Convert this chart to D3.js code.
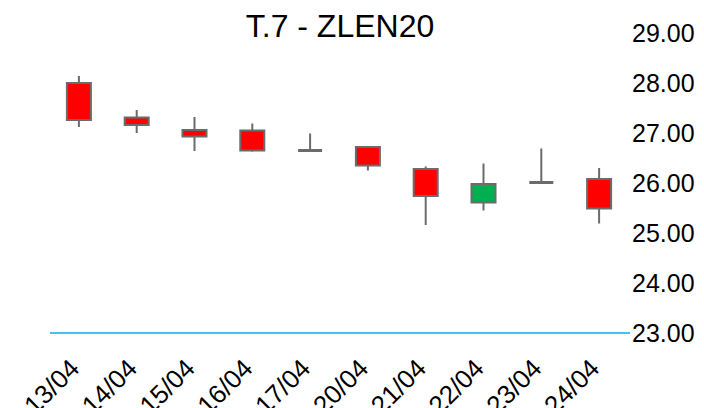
<!DOCTYPE html>
<html>
<head>
<meta charset="utf-8">
<script src="https://cdn.jsdelivr.net/npm/d3@7"></script>
<style>
  body { margin: 0; background: #fff; }
  text { font-family: "Liberation Sans", Arial, sans-serif; fill: #000; }
</style>
</head>
<body>
<div id="chart"></div>
<script>
// chart data
var dates = ['13/04', '14/04', '15/04', '16/04', '17/04', '20/04', '21/04', '22/04', '23/04', '24/04'];
var openVals  = [28.00, 27.31, 27.06, 27.05, 26.65, 26.72, 26.28, 25.61, 26.01, 26.08];
var highVals  = [28.14, 27.46, 27.32, 27.19, 26.99, 26.74, 26.33, 26.39, 26.69, 26.30];
var lowVals   = [27.12, 27.00, 26.64, 26.63, 26.64, 26.25, 25.16, 25.45, 26.00, 25.19];
var closeVals = [27.26, 27.16, 26.93, 26.65, 26.65, 26.35, 25.74, 25.98, 26.01, 25.49];
var yTicks = [23, 24, 25, 26, 27, 28, 29];

var svgWidth = 704;
var svgHeight = 408;
var margin = { top: 33, right: 76, bottom: 75, left: 50 };
var chartWidth = svgWidth - margin.left - margin.right;
var chartHeight = svgHeight - margin.top - margin.bottom;

var candles = dates.map((d, i) => ({
    date: d,
    open: openVals[i],
    high: highVals[i],
    low: lowVals[i],
    close: closeVals[i]
}));

var svg = d3.select('#chart')
    .append('svg')
    .attr('width', svgWidth)
    .attr('height', svgHeight);

var chartGroup = svg.append('g')
    .attr('transform', `translate(${margin.left}, ${margin.top})`);

var xScale = d3.scaleBand()
    .domain(dates)
    .range([0, chartWidth]);

var yScale = d3.scaleLinear()
    .domain([23, 29])
    .range([chartHeight, 0]);

var bodyWidth = 24;

// title
svg.append('text')
    .attr('x', 340)
    .attr('y', 37)
    .attr('text-anchor', 'middle')
    .style('font-size', '32px')
    .text('T.7 - ZLEN20');

// right axis
var rightAxis = d3.axisRight(yScale)
    .tickValues(yTicks)
    .tickSize(0)
    .tickPadding(4)
    .tickFormat(d3.format('.2f'));

var yAxisGroup = chartGroup.append('g')
    .attr('transform', `translate(${chartWidth}, 0)`)
    .call(rightAxis);
yAxisGroup.select('.domain').remove();
yAxisGroup.selectAll('text')
    .style('font-size', '25px')
    .attr('fill', '#000');

// bottom baseline
chartGroup.append('line')
    .attr('x1', 0)
    .attr('x2', chartWidth + 2)
    .attr('y1', yScale(23))
    .attr('y2', yScale(23))
    .attr('stroke', '#00b0f0')
    .attr('stroke-width', 1.5);

// x labels (rotated, partly cut by the bottom edge like the original)
chartGroup.selectAll('.xlabel')
    .data(dates)
    .enter()
    .append('text')
    .attr('class', 'xlabel')
    .attr('text-anchor', 'end')
    .style('font-size', '26px')
    .attr('transform', d => `translate(${xScale(d) + xScale.bandwidth() / 2 + 2}, ${chartHeight + 37}) rotate(-45)`)
    .text(d => d);

// wicks
chartGroup.selectAll('.wick')
    .data(candles)
    .enter()
    .append('line')
    .attr('class', 'wick')
    .attr('x1', d => xScale(d.date) + xScale.bandwidth() / 2)
    .attr('x2', d => xScale(d.date) + xScale.bandwidth() / 2)
    .attr('y1', d => yScale(d.high))
    .attr('y2', d => yScale(d.low))
    .attr('stroke', '#6b6b6b')
    .attr('stroke-width', 2);

// bodies
var bodies = candles.filter(d => d.open !== d.close);
chartGroup.selectAll('.body')
    .data(bodies)
    .enter()
    .append('rect')
    .attr('class', 'body')
    .attr('x', d => xScale(d.date) + (xScale.bandwidth() - bodyWidth) / 2)
    .attr('y', d => yScale(Math.max(d.open, d.close)))
    .attr('width', bodyWidth)
    .attr('height', d => Math.abs(yScale(d.open) - yScale(d.close)))
    .attr('fill', d => d.close > d.open ? '#00b050' : '#ff0000')
    .attr('stroke', '#6b6b6b')
    .attr('stroke-width', 2);

// doji
var dojis = candles.filter(d => d.open === d.close);
chartGroup.selectAll('.doji')
    .data(dojis)
    .enter()
    .append('line')
    .attr('class', 'doji')
    .attr('x1', d => xScale(d.date) + (xScale.bandwidth() - bodyWidth) / 2)
    .attr('x2', d => xScale(d.date) + (xScale.bandwidth() + bodyWidth) / 2)
    .attr('y1', d => yScale(d.open))
    .attr('y2', d => yScale(d.open))
    .attr('stroke', '#6b6b6b')
    .attr('stroke-width', 3);
</script>
</body>
</html>
